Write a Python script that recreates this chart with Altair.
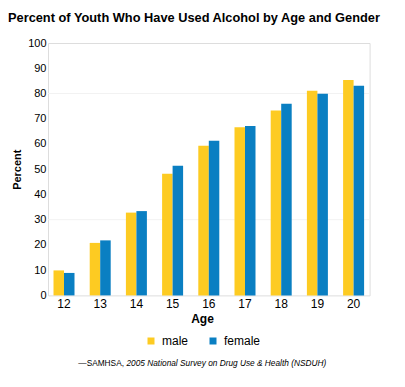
import altair as alt
import pandas as pd

ages = [12, 13, 14, 15, 16, 17, 18, 19, 20]
male = [9.9, 20.8, 32.8, 48.2, 59.3, 66.6, 73.3, 81.1, 85.3]
female = [8.9, 21.8, 33.4, 51.4, 61.3, 67.1, 75.9, 79.9, 83.1]
genders = ["male", "female"]
colors = ["#FDCB22", "#0A7FC2"]
grid_vals = [30, 80]

rows = []
for a, m, f in zip(ages, male, female):
    rows.append({"Age": a, "gender": "male", "Percent": m})
    rows.append({"Age": a, "gender": "female", "Percent": f})
df = pd.DataFrame(rows)

FONT = "Liberation Sans"
W, H = 321.6, 252.4
PL, PT = 40, 35

y_axis = alt.Axis(values=list(range(0, 101, 10)), grid=False, ticks=False, domain=False,
                  labelFontSize=11, labelPadding=2, titleFontSize=11, titleFontWeight="bold",
                  titlePadding=5, labelColor="#000", titleColor="#000",
                  labelFont=FONT, titleFont=FONT)
y_scale = alt.Scale(domain=[0, 100])

grid = alt.Chart(pd.DataFrame({"v": grid_vals})).mark_rule(color="#f2f2f2", strokeWidth=1).encode(
    y=alt.Y("v:Q", scale=y_scale, axis=y_axis, title="Percent")
)

bars = alt.Chart(df).mark_bar(width={"band": 1}).encode(
    x=alt.X("Age:O", title="Age", scale=alt.Scale(paddingInner=0.42, paddingOuter=0.152),
            axis=alt.Axis(labelAngle=0, ticks=False, domain=False, labelFontSize=12,
                          labelPadding=3, titleFontSize=12, titleFontWeight="bold",
                          titleX=154, titlePadding=4, labelColor="#000", titleColor="#000",
                          labelFont=FONT, titleFont=FONT)),
    xOffset=alt.XOffset("gender:N", sort=genders, scale=alt.Scale(domain=genders, paddingInner=0, paddingOuter=0)),
    y=alt.Y("Percent:Q", title="Percent", scale=y_scale, axis=y_axis),
    color=alt.Color("gender:N", sort=genders, scale=alt.Scale(domain=genders, range=colors),
                    legend=alt.Legend(title=None, orient="none", legendX=97, legendY=292,
                                      direction="horizontal", symbolType="square", symbolSize=49,
                                      symbolStrokeWidth=0, labelFontSize=12, labelFont=FONT,
                                      labelColor="#000", columnPadding=18, labelOffset=5)),
)

src1 = alt.Chart(pd.DataFrame({"t": ["\u2014SAMHSA,"]})).mark_text(
    align="right", baseline="middle", fontSize=8.3, font=FONT, color="#000"
).encode(text="t:N", x=alt.value(76), y=alt.value(321))

src2 = alt.Chart(pd.DataFrame({"t": ["2005 National Survey on Drug Use & Health (NSDUH)"]})).mark_text(
    align="left", baseline="middle", fontSize=8.3, font=FONT, fontStyle="italic", color="#000"
).encode(text="t:N", x=alt.value(78.5), y=alt.value(321))

chart = alt.layer(grid, bars, src1, src2).properties(
    width=W, height=H,
    title=alt.TitleParams("Percent of Youth Who Have Used Alcohol by Age and Gender",
                          anchor="start", frame="group", dx=-40, fontSize=12.8, font=FONT,
                          fontWeight="bold", color="#000", offset=12),
    autosize=alt.AutoSizeParams(type="none"),
    padding={"left": PL, "top": PT, "right": 405 - 16 - PL - W, "bottom": 387 - 16 - PT - H},
).configure_view(stroke=None).configure(background="white")

chart.save("out.html", embed_options={"renderer": "svg", "actions": False})
